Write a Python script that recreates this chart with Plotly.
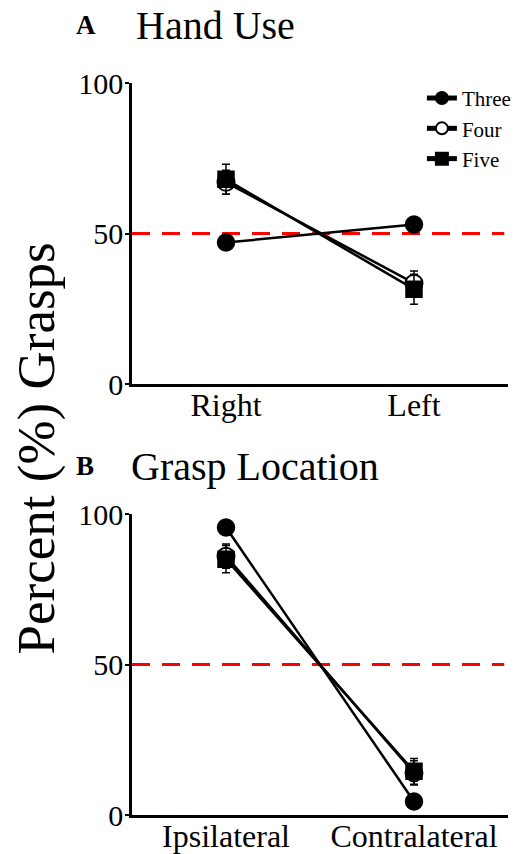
import plotly.graph_objects as go

# ---- data ----
series_names = ["Three", "Four", "Five"]

hand_categories = ["Right", "Left"]
hand_three = [47, 53]
hand_four = [67, 33.5]
hand_five = [68, 31.5]
hand_three_err = [1, 1]
hand_four_err = [4, 4]
hand_five_err = [5, 5]

loc_categories = ["Ipsilateral", "Contralateral"]
loc_three = [95.5, 4.5]
loc_four = [86, 14]
loc_five = [85, 14.5]
loc_three_err = [1, 1]
loc_four_err = [4, 4]
loc_five_err = [4.5, 4.3]

y_ticks = [0, 50, 100]
chance_level = 50

FONT = "Times New Roman, Liberation Serif, serif"

styles = {
    "Three": dict(symbol="circle", color="black", line=dict(color="black", width=1.5), size=17),
    "Four": dict(symbol="circle", color="white", line=dict(color="black", width=2), size=17),
    "Five": dict(symbol="square", color="black", line=dict(color="black", width=1.5), size=16),
}

fig = go.Figure()

panels = [
    (hand_categories, [hand_three, hand_four, hand_five],
     [hand_three_err, hand_four_err, hand_five_err], "x", "y", True),
    (loc_categories, [loc_three, loc_four, loc_five],
     [loc_three_err, loc_four_err, loc_five_err], "x2", "y2", False),
]

for cats, vals, errs, xa, ya, show in panels:
    for name, v, e in zip(series_names, vals, errs):
        fig.add_trace(go.Scatter(
            x=cats, y=v, name=name, mode="lines+markers",
            xaxis=xa, yaxis=ya, showlegend=show,
            line=dict(color="black", width=2.5),
            marker=styles[name],
            error_y=dict(type="data", array=e, visible=True,
                         color="black", thickness=1.5, width=4),
        ))

top_dom = [0.5888, 1.0]
bot_dom = [0.0, 0.4112]

axis_common = dict(
    showline=True, linecolor="black", linewidth=2.5,
    showgrid=False, zeroline=False,
)
xfont = dict(family=FONT, size=32, color="black")
yfont = dict(family=FONT, size=30, color="black")

xaxis_style = dict(type="category", range=[-0.5, 1.5], ticks="",
                   tickfont=xfont, ticklabelstandoff=-9, **axis_common)
yaxis_style = dict(range=[0, 100], tickvals=y_ticks, ticks="outside", ticklen=4,
                   tickwidth=2, tickcolor="black", tickfont=yfont,
                   ticklabelstandoff=-4, **axis_common)

fig.update_layout(
    width=518, height=854,
    margin=dict(l=132, r=10, t=83, b=39, autoexpand=False),
    paper_bgcolor="white", plot_bgcolor="white",
    font=dict(family=FONT, color="black"),
    xaxis=dict(domain=[0, 1], anchor="y", **xaxis_style),
    yaxis=dict(domain=top_dom, anchor="x", **yaxis_style),
    xaxis2=dict(domain=[0, 1], anchor="y2", **xaxis_style),
    yaxis2=dict(domain=bot_dom, anchor="x2", **yaxis_style),
    legend=dict(x=0.771, y=1.007, xanchor="left", yanchor="top",
                font=dict(family=FONT, size=21, color="black"),
                bgcolor="rgba(0,0,0,0)", itemsizing="constant",
                tracegroupgap=0, traceorder="normal"),
    showlegend=True,
)

for xr, ya in [("x domain", "y"), ("x2 domain", "y2")]:
    fig.add_shape(type="line", xref=xr, yref=ya,
                  x0=0, x1=0.99, y0=chance_level, y1=chance_level,
                  line=dict(color="red", width=3, dash="18px,12px"), layer="below")

annotations = [
    dict(text="<b>A</b>", x=-0.154, y=1.079, size=27),
    dict(text="Hand Use", x=0.0054, y=1.079, size=40),
    dict(text="<b>B</b>", x=-0.154, y=0.4767, size=27),
    dict(text="Grasp Location", x=-0.008, y=0.4767, size=40),
]
for a in annotations:
    fig.add_annotation(text=a["text"], x=a["x"], y=a["y"], xref="paper", yref="paper",
                       xanchor="left", yanchor="middle", showarrow=False,
                       font=dict(family=FONT, size=a["size"], color="black"))

fig.add_annotation(text="Percent (%) Grasps", x=-0.255, y=0.501, xref="paper", yref="paper",
                   xanchor="center", yanchor="middle", textangle=-90, showarrow=False,
                   font=dict(family=FONT, size=53, color="black"))

fig.write_html("out.html", config={"displayModeBar": False},
               post_script="document.body.style.margin='0';document.body.style.padding='0';")
